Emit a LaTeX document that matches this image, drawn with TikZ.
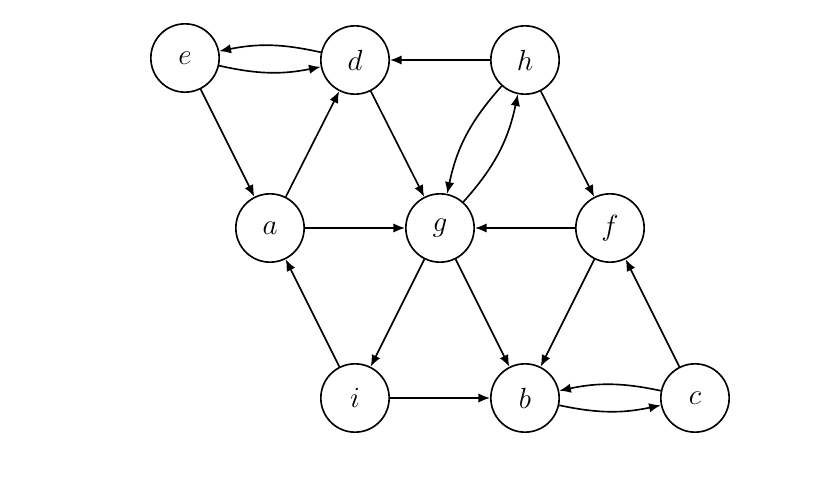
\documentclass[tikz,border=0pt]{standalone}
\usetikzlibrary{arrows.meta}
\begin{document}
\begin{tikzpicture}[x=0.03cm,y=-0.03cm,
  vtx/.style={circle,draw,line width=1.4pt,minimum size=2.05cm,inner sep=0pt,font=\fontsize{30}{32}\selectfont},
  arr/.style={-{Latex[length=10pt,width=8pt]},line width=1.4pt}]
\useasboundingbox (0,0) rectangle (836,482);
\node[vtx] (e) at (185,58) {$e$};
\node[vtx] (d) at (355,60) {$d$};
\node[vtx] (h) at (525,60) {$h$};
\node[vtx] (a) at (270,228) {$a$};
\node[vtx] (g) at (440,228) {$g$};
\node[vtx] (f) at (610,228) {$f$};
\node[vtx] (i) at (355,398) {$i$};
\node[vtx] (b) at (525,398) {$b$};
\node[vtx] (c) at (695,398) {$c$};
\draw[arr] (e) to[bend right=12] (d);
\draw[arr] (d) to[bend right=12] (e);
\draw[arr] (e) -- (a);
\draw[arr] (a) -- (d);
\draw[arr] (d) -- (g);
\draw[arr] (h) -- (d);
\draw[arr] (h) to[bend right=15] (g);
\draw[arr] (g) to[bend right=15] (h);
\draw[arr] (h) -- (f);
\draw[arr] (a) -- (g);
\draw[arr] (f) -- (g);
\draw[arr] (g) -- (i);
\draw[arr] (g) -- (b);
\draw[arr] (f) -- (b);
\draw[arr] (i) -- (a);
\draw[arr] (i) -- (b);
\draw[arr] (b) to[bend right=12] (c);
\draw[arr] (c) to[bend right=12] (b);
\draw[arr] (c) -- (f);
\end{tikzpicture}
\end{document}
